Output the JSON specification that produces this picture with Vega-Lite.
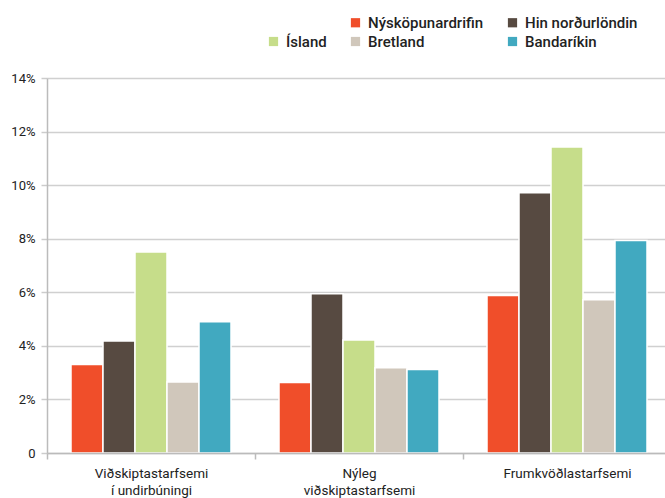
{
  "$schema": "https://vega.github.io/schema/vega-lite/v6.json",
  "width": 618,
  "height": 375,
  "autosize": {"type": "none"},
  "padding": {"left": 47, "top": 78, "right": 0, "bottom": 45},
  "background": "white",
  "config": {
    "view": {"stroke": null},
    "font": "Roboto",
    "axis": {"labelFont": "Roboto", "labelColor": "#222222"}
  },
  "data": {
    "values": [
      {"cat": "Viðskiptastarfsemi|í undirbúningi", "series": "Nýsköpunardrifin", "value": 0.033},
      {"cat": "Viðskiptastarfsemi|í undirbúningi", "series": "Hin norðurlöndin", "value": 0.0418},
      {"cat": "Viðskiptastarfsemi|í undirbúningi", "series": "Ísland", "value": 0.075},
      {"cat": "Viðskiptastarfsemi|í undirbúningi", "series": "Bretland", "value": 0.0265},
      {"cat": "Viðskiptastarfsemi|í undirbúningi", "series": "Bandaríkin", "value": 0.049},
      {"cat": "Nýleg|viðskiptastarfsemi", "series": "Nýsköpunardrifin", "value": 0.0263},
      {"cat": "Nýleg|viðskiptastarfsemi", "series": "Hin norðurlöndin", "value": 0.0595},
      {"cat": "Nýleg|viðskiptastarfsemi", "series": "Ísland", "value": 0.0422},
      {"cat": "Nýleg|viðskiptastarfsemi", "series": "Bretland", "value": 0.0318},
      {"cat": "Nýleg|viðskiptastarfsemi", "series": "Bandaríkin", "value": 0.0312},
      {"cat": "Frumkvöðlastarfsemi", "series": "Nýsköpunardrifin", "value": 0.0588},
      {"cat": "Frumkvöðlastarfsemi", "series": "Hin norðurlöndin", "value": 0.0972},
      {"cat": "Frumkvöðlastarfsemi", "series": "Ísland", "value": 0.1142},
      {"cat": "Frumkvöðlastarfsemi", "series": "Bretland", "value": 0.0572},
      {"cat": "Frumkvöðlastarfsemi", "series": "Bandaríkin", "value": 0.0793}
    ]
  },
  "mark": {"type": "bar", "stroke": "white", "strokeWidth": 1.5},
  "encoding": {
    "x": {
      "field": "cat",
      "type": "nominal",
      "sort": null,
      "scale": {"range": [0, 624], "paddingInner": 0, "paddingOuter": 0},
      "axis": {
        "title": null,
        "zindex": 1,
        "labelAngle": 0,
        "labelExpr": "split(datum.label, '|')",
        "labelFontSize": 13.5,
        "labelPadding": 7,
        "labelLineHeight": 17,
        "labelBaseline": "top",
        "domainColor": "#bbbbbb",
        "domainWidth": 1.5,
        "tickColor": "#bbbbbb",
        "tickWidth": 1.5,
        "tickSize": 6,
        "tickBand": "extent",
        "grid": false
      }
    },
    "xOffset": {
      "field": "series",
      "type": "nominal",
      "sort": ["Nýsköpunardrifin", "Hin norðurlöndin", "Ísland", "Bretland", "Bandaríkin"],
      "scale": {"paddingInner": 0, "paddingOuter": 0.75}
    },
    "y": {
      "field": "value",
      "type": "quantitative",
      "scale": {"domain": [0, 0.14], "nice": false},
      "axis": {
        "title": null,
        "values": [0, 0.02, 0.04, 0.06, 0.08, 0.1, 0.12, 0.14],
        "labelExpr": "datum.value == 0 ? '0' : format(datum.value, '.0%')",
        "labelFontSize": 13,
        "labelPadding": 6,
        "domainColor": "#bbbbbb",
        "domainWidth": 1.5,
        "tickColor": "#cccccc",
        "tickWidth": 1.5,
        "tickSize": 6,
        "gridColor": "#d0d0d0",
        "gridWidth": 1.5
      }
    },
    "color": {
      "field": "series",
      "type": "nominal",
      "scale": {
        "domain": ["", "Nýsköpunardrifin", "Hin norðurlöndin", "Ísland", "Bretland", "Bandaríkin"],
        "range": ["rgba(0,0,0,0)", "#F04E2A", "#574A41", "#C6DD8A", "#D0C7BB", "#41A9C0"]
      },
      "legend": {
        "title": null,
        "orient": "none",
        "legendX": 219,
        "legendY": -63,
        "direction": "horizontal",
        "columns": 3,
        "padding": 0,
        "columnPadding": 21,
        "rowPadding": 3,
        "symbolType": "square",
        "symbolSize": 85,
        "symbolStrokeWidth": 0,
        "symbolOffset": 0,
        "labelOffset": 5,
        "labelFontSize": 15,
        "labelFontWeight": 500,
        "labelFont": "Roboto",
        "labelColor": "#222222",
        "labelLimit": 300
      }
    }
  }
}
